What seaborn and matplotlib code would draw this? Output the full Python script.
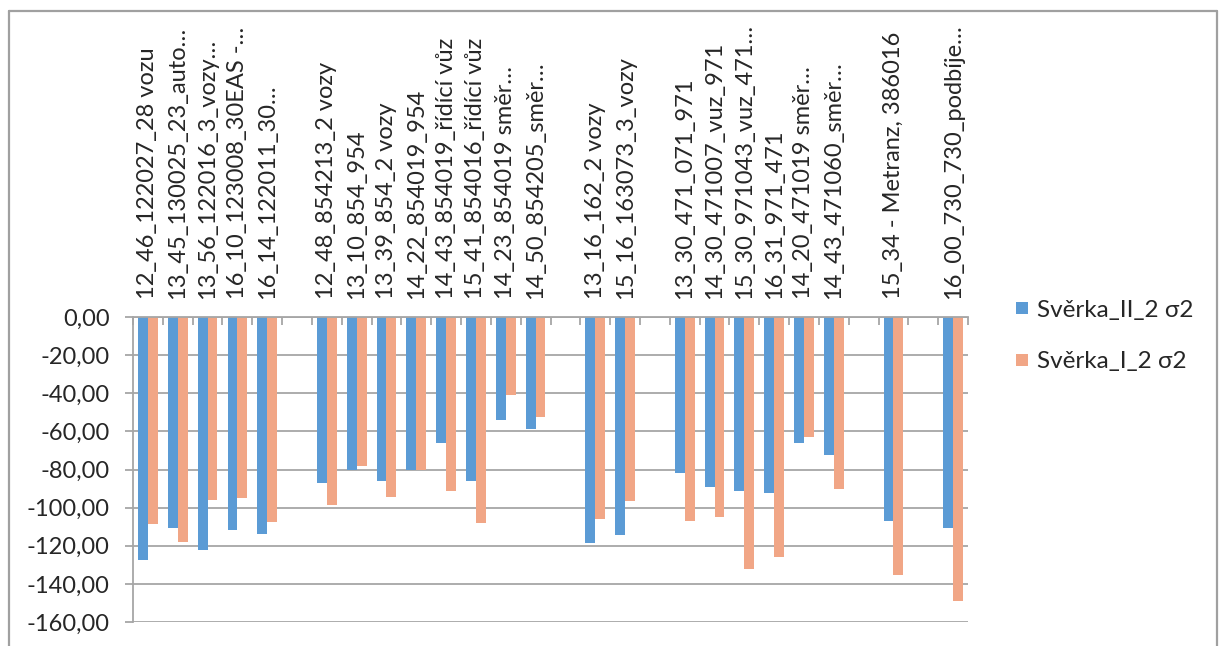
import numpy as np
import pandas as pd
import matplotlib
matplotlib.use("Agg")
import matplotlib.pyplot as plt
from matplotlib.lines import Line2D
import seaborn as sns

# Category labels; empty strings are spacer slots between the groups
labels = [
    "12_46_122027_28 vozu", "13_45_130025_23_auto…", "13_56_122016_3_vozy…",
    "16_10_123008_30EAS -…", "16_14_122011_30…",
    "",
    "12_48_854213_2 vozy", "13_10_854_954", "13_39_854_2 vozy", "14_22_854019_954",
    "14_43_854019_řídící vůz", "15_41_854016_řídící vůz", "14_23_854019 směr…",
    "14_50_854205_směr…",
    "",
    "13_16_162_2 vozy", "15_16_163073_3_vozy",
    "",
    "13_30_471_071_971", "14_30_471007_vuz_971", "15_30_971043_vuz_471…",
    "16_31_971_471", "14_20_471019 směr…", "14_43_471060_směr…",
    "",
    "15_34 - Metranz, 386016",
    "",
    "16_00_730_730_podbíje…",
]

sverka_II = [
    -127.5, -110.9, -122.2, -111.8, -114.0,
    np.nan,
    -86.9, -80.4, -85.8, -80.1, -65.9, -85.8, -54.0, -58.5,
    np.nan,
    -118.4, -114.4,
    np.nan,
    -81.6, -89.0, -91.1, -92.1, -65.9, -72.2,
    np.nan,
    -106.8,
    np.nan,
    -110.9,
]

sverka_I = [
    -108.8, -118.2, -96.0, -95.1, -107.6,
    np.nan,
    -98.4, -78.3, -94.2, -80.4, -91.1, -107.9, -40.7, -52.3,
    np.nan,
    -105.8, -96.3,
    np.nan,
    -106.8, -104.9, -132.0, -125.7, -62.7, -90.0,
    np.nan,
    -135.2,
    np.nan,
    -148.8,
]

series_names = ["Svěrka_II_2 σ2", "Svěrka_I_2 σ2"]
colors = ["#5B9BD5", "#F1A686"]
grid_color = "#A6A6A6"
text_color = "#262626"

slots = [f"s{i:02d}" for i in range(len(labels))]
df = pd.DataFrame({
    "slot": slots * 2,
    "value": sverka_II + sverka_I,
    "series": [series_names[0]] * len(slots) + [series_names[1]] * len(slots),
}).dropna()

sns.set_theme(style="white")
plt.rcParams["font.family"] = ["Lato", "DejaVu Sans"]
plt.rcParams["text.color"] = text_color

fig = plt.figure(figsize=(12.24, 6.46), dpi=100)
ax = fig.add_axes([133 / 1224, 1 - 622 / 646, (968 - 133) / 1224, (622 - 317) / 646])

sns.barplot(
    data=df, x="slot", y="value", hue="series",
    order=slots, hue_order=series_names, palette=colors,
    width=0.66, gap=0, saturation=1, errorbar=None, legend=False, ax=ax,
)
for p in ax.patches:
    p.set_linewidth(0)

ax.set_xlim(-0.5, len(slots) - 0.5)
ax.set_ylim(-160, 0)
ax.set_xlabel("")
ax.set_ylabel("")

# y axis: comma decimals, gridlines every 20
yt = np.arange(-160, 1, 20)
ax.set_yticks(yt)
ax.set_yticklabels([f"{v:.2f}".replace(".", ",") for v in yt], fontsize=17, color=text_color)
ax.yaxis.grid(True, color=grid_color, linewidth=1.3)
ax.set_axisbelow(True)
ax.tick_params(axis="y", which="major", left=True, length=6, width=1.3,
               color=grid_color, pad=11)

# category labels along the zero line at the top
ax.xaxis.tick_top()
ax.set_xticks(range(len(slots)))
ax.set_xticklabels(labels, rotation=90, fontsize=17, color=text_color)
ax.tick_params(axis="x", which="major", top=True, bottom=False, length=0, pad=13)
ax.set_xticks(np.arange(-0.5, len(slots), 1.0), minor=True)
ax.tick_params(axis="x", which="minor", top=True, bottom=False, direction="in",
               length=6, width=1.3, color=grid_color)

for side in ["right", "bottom"]:
    ax.spines[side].set_visible(False)
for side in ["left", "top"]:
    ax.spines[side].set_color(grid_color)
    ax.spines[side].set_linewidth(1.3)

# legend on the right
handles = [Line2D([], [], linestyle="none", marker="s", markersize=8,
                  markerfacecolor=c, markeredgewidth=0) for c in colors]
fig.legend(handles, series_names, loc="upper left",
           bbox_to_anchor=(1004 / 1224, 1 - 290 / 646), frameon=False,
           fontsize=17.5, handlelength=0.7, handletextpad=0.25,
           labelspacing=1.25, borderaxespad=0)

# outer chart frame
frame_kw = dict(color="#A0A0A0", linewidth=1.6, transform=fig.transFigure)
x0, x1, yt_ = 9 / 1224, 1217 / 1224, 1 - 11 / 646
fig.add_artist(Line2D([x0, x1], [yt_, yt_], **frame_kw))
fig.add_artist(Line2D([x0, x0], [0, yt_], **frame_kw))
fig.add_artist(Line2D([x1, x1], [0, yt_], **frame_kw))

fig.savefig("out.png", dpi=100)
